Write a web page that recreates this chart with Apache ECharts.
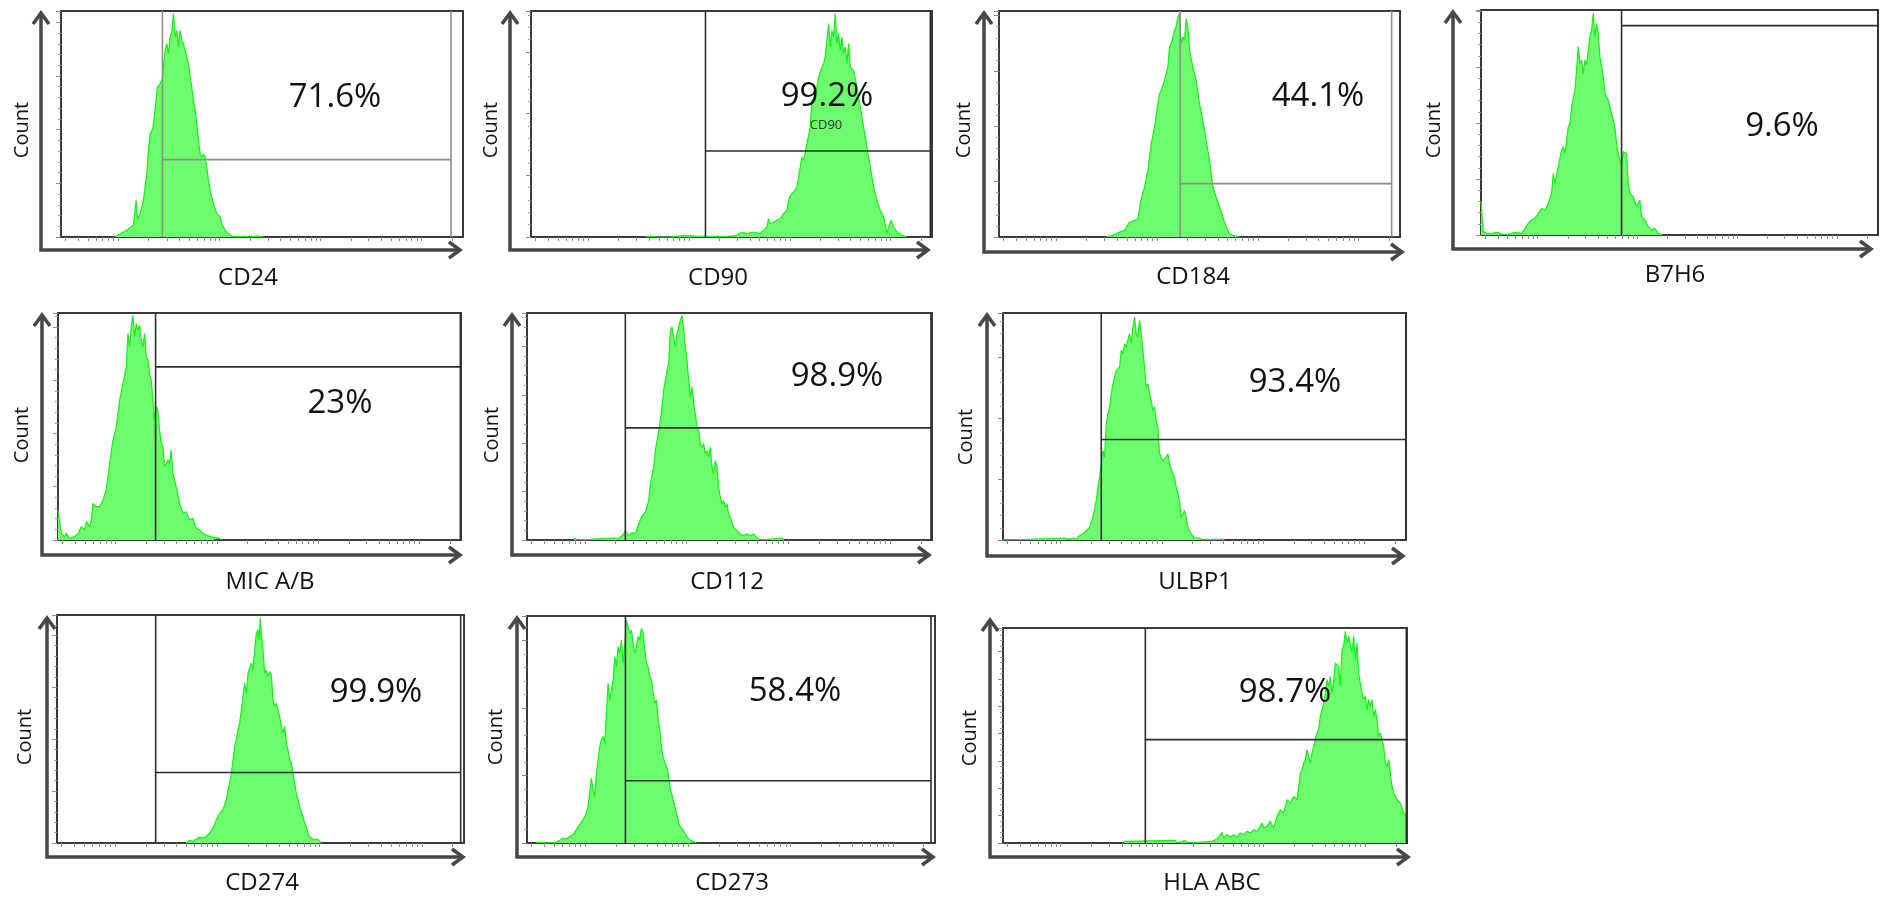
<!DOCTYPE html>
<html>
<head>
<meta charset="utf-8">
<title>Flow cytometry histograms</title>
<script src="https://cdn.jsdelivr.net/npm/echarts@6/dist/echarts.min.js"></script>
<style>
  html, body { margin: 0; padding: 0; background: #fff; }
  #chart { width: 1882px; height: 897px; }
</style>
</head>
<body>
<div id="chart"></div>
<script>
// markers in reading order and the % of cells in the positive gate
const markers = ['CD24', 'CD90', 'CD184', 'B7H6', 'MIC A/B', 'CD112', 'ULBP1', 'CD274', 'CD273', 'HLA ABC'];
const positive = ['71.6%', '99.2%', '44.1%', '9.6%', '23%', '98.9%', '93.4%', '99.9%', '58.4%', '98.7%'];

// channel range (x), count range (y) and count tick step of every plot
const xMax = [1205, 1202, 1204, 1192, 1210, 1215, 1210, 1221, 1223, 1212];
const yMax = [678, 678, 678, 675, 682, 680, 680, 685, 682, 645];
const yStep = [161, 185, 166, 168, 160, 145, 182, 156, 203, 82];

// gate: [left channel, count level of the marker bar, right channel]
const gates = [
  [304, 232, 1169], [523, 258, 1197], [544, 160, 1179], [422, 628, 1192], [293, 520, 1208],
  [295, 336, 1212], [295, 301, 1210], [296, 212, 1211], [295, 187, 1211], [427, 310, 1210]
];
const greyGate = [true, false, true, false, false, false, false, false, false, false];

// log decades of the fluorescence axis (fraction of axis where each decade starts)
const decadeStart = 0.143, decadeStep = 0.2513;

// histograms: [channel, count]
const histCD24 = [[162,0],[177,10],[197,20],[217,35],[222,40],[225,110],[229,55],[237,70],[247,110],[257,190],[262,260],[267,310],[275,325],[282,380],[289,450],[297,460],[304,475],[307,510],[312,560],[317,580],[322,550],[327,600],[332,615],[337,670],[342,600],[347,620],[352,570],[357,620],[362,590],[367,580],[372,560],[377,540],[382,520],[387,480],[392,450],[397,410],[402,380],[407,340],[412,290],[417,250],[422,240],[427,250],[432,240],[437,210],[442,170],[447,140],[457,100],[467,70],[477,60],[482,40],[492,20],[502,10],[517,0],[547,3],[562,0],[592,3],[607,0]];
const histCD90 = [[342,0],[345,5],[360,3],[375,0],[420,0],[460,5],[495,3],[500,0],[597,2],[617,5],[632,15],[647,10],[667,15],[687,10],[697,20],[707,30],[712,55],[717,40],[727,45],[737,50],[747,55],[757,70],[767,80],[772,110],[777,125],[787,135],[797,150],[807,210],[812,240],[817,230],[827,280],[837,330],[842,410],[852,420],[862,480],[872,510],[877,520],[882,540],[887,590],[892,640],[897,570],[902,620],[907,600],[912,670],[917,580],[922,610],[927,560],[932,600],[937,550],[942,570],[947,520],[952,580],[957,510],[967,500],[977,450],[987,390],[997,330],[1007,270],[1017,210],[1027,150],[1037,110],[1047,80],[1057,60],[1067,10],[1072,30],[1079,50],[1087,30],[1097,15],[1112,5],[1127,0]];
const histCD184 = [[322,0],[342,5],[362,15],[377,20],[392,45],[407,50],[417,55],[427,115],[437,150],[447,200],[457,280],[467,330],[477,400],[482,430],[487,440],[497,470],[507,510],[512,570],[517,580],[522,600],[527,620],[532,630],[537,660],[542,670],[547,580],[552,600],[557,590],[562,655],[567,630],[572,560],[582,510],[592,470],[602,400],[612,350],[622,290],[632,230],[642,150],[652,120],[662,90],[672,60],[682,30],[692,10],[702,5],[722,0]];
const histB7H6 = [[0,100],[4,100],[7,10],[17,5],[32,5],[52,8],[62,2],[82,2],[102,8],[122,5],[132,20],[142,35],[152,45],[162,50],[172,65],[182,80],[192,75],[202,95],[212,125],[217,185],[222,155],[232,205],[242,255],[247,265],[252,245],[257,285],[262,325],[267,335],[272,385],[282,435],[287,495],[292,565],[297,515],[302,525],[307,485],[312,525],[317,510],[322,555],[327,595],[332,615],[337,665],[342,595],[347,635],[352,605],[357,535],[362,505],[367,475],[372,425],[377,415],[382,405],[387,385],[392,365],[402,325],[407,275],[412,245],[417,225],[422,205],[427,250],[437,245],[442,155],[447,125],[457,115],[467,85],[477,105],[482,55],[492,45],[502,25],[512,15],[522,20],[532,5],[547,0]];
const histMICAB = [[0,88],[4,88],[10,20],[20,10],[25,20],[35,5],[50,10],[60,20],[70,40],[80,30],[85,55],[95,40],[100,60],[105,110],[115,100],[125,100],[135,120],[145,150],[155,230],[165,300],[175,340],[180,380],[185,420],[195,470],[205,520],[210,620],[215,580],[220,640],[225,675],[230,610],[235,650],[240,630],[245,645],[250,600],[255,580],[260,620],[265,550],[270,540],[275,500],[280,480],[285,420],[290,360],[295,400],[300,390],[305,330],[310,290],[315,280],[320,220],[330,240],[335,230],[340,270],[345,200],[355,160],[365,110],[375,80],[385,85],[395,60],[405,65],[415,35],[425,30],[435,20],[445,15],[465,8],[485,5],[490,0]];
const histCD112 = [[140,6],[150,0],[190,2],[225,4],[260,6],[275,4],[290,18],[295,28],[305,13],[315,23],[325,18],[335,48],[345,73],[355,83],[365,118],[370,168],[375,173],[380,218],[385,268],[390,298],[395,328],[400,358],[405,398],[410,448],[415,478],[420,508],[425,528],[430,628],[435,638],[440,608],[445,578],[450,618],[455,638],[460,658],[465,673],[470,628],[475,578],[480,538],[485,478],[490,428],[495,458],[500,408],[505,378],[510,338],[515,328],[520,288],[525,278],[530,288],[535,258],[540,268],[545,248],[550,278],[555,218],[560,198],[565,238],[570,218],[575,158],[580,128],[585,108],[590,118],[595,98],[600,108],[605,78],[610,68],[620,38],[630,28],[640,18],[650,13],[660,18],[670,13],[680,18],[690,6],[700,0],[765,6],[770,0]];
const histULBP1 = [[2,3],[10,0],[185,6],[200,2],[210,6],[220,3],[230,13],[240,18],[250,28],[260,38],[270,68],[280,118],[285,158],[290,188],[295,228],[300,268],[305,248],[310,348],[315,378],[320,398],[325,438],[330,468],[335,488],[340,508],[350,518],[355,568],[360,558],[365,588],[370,578],[375,598],[380,618],[385,588],[390,638],[395,668],[400,618],[405,608],[410,658],[415,618],[420,568],[425,518],[430,458],[435,468],[440,438],[445,418],[450,388],[455,398],[460,358],[465,338],[470,258],[475,248],[480,238],[490,248],[495,258],[500,228],[510,198],[515,188],[520,158],[530,118],[535,68],[540,78],[545,88],[550,68],[555,38],[565,18],[575,6],[590,6],[600,0],[630,2],[660,2],[665,0]];
const histCD274 = [[388,0],[398,8],[408,5],[418,12],[428,18],[438,15],[448,20],[458,30],[468,45],[478,70],[488,90],[498,100],[508,130],[513,160],[518,180],[523,210],[528,250],[533,290],[538,310],[543,340],[548,360],[553,400],[558,440],[563,480],[568,450],[573,510],[578,515],[583,540],[588,520],[593,580],[598,630],[603,640],[606,610],[610,675],[613,630],[618,580],[623,510],[628,520],[633,500],[638,515],[643,505],[648,430],[653,410],[658,420],[663,400],[668,380],[673,350],[678,330],[683,350],[688,300],[693,280],[698,250],[703,240],[708,210],[713,180],[718,150],[723,130],[728,110],[733,90],[738,80],[743,60],[748,50],[753,30],[758,18],[768,12],[783,10],[793,0]];
const histCD273 = [[28,3],[58,0],[88,2],[98,8],[108,14],[118,12],[128,20],[138,25],[148,40],[158,55],[168,70],[178,90],[183,110],[188,150],[193,195],[198,160],[203,140],[208,210],[213,250],[218,290],[223,310],[228,320],[233,300],[238,390],[243,480],[248,430],[253,460],[258,490],[263,560],[268,530],[273,590],[278,570],[283,610],[288,540],[293,590],[298,670],[303,650],[308,630],[313,640],[318,600],[323,570],[328,590],[333,620],[338,610],[343,645],[348,630],[353,580],[358,540],[363,530],[368,500],[373,490],[378,450],[383,420],[388,430],[393,370],[398,340],[403,290],[408,260],[413,240],[418,230],[423,210],[428,170],[433,170],[438,130],[448,90],[458,50],[468,40],[478,20],[488,10],[503,2],[508,0]];
const histHLAABC = [[362,5],[367,0],[517,8],[522,0],[547,8],[552,0],[627,5],[642,12],[657,32],[662,15],[672,25],[682,18],[692,25],[702,18],[712,30],[722,25],[732,35],[742,30],[752,40],[762,35],[772,50],[777,60],[782,45],[792,50],[802,65],[812,45],[822,80],[827,90],[832,100],[842,90],[852,130],[857,135],[862,120],[872,140],[882,130],[887,170],[892,210],[897,220],[902,240],[907,250],[912,280],[917,260],[922,240],[927,270],[932,290],[937,310],[942,330],[947,340],[952,380],[957,400],[962,420],[967,450],[972,490],[977,470],[982,500],[987,450],[992,490],[997,540],[1002,540],[1007,530],[1012,470],[1017,580],[1022,590],[1027,635],[1032,600],[1037,620],[1042,625],[1047,570],[1052,620],[1057,550],[1062,600],[1067,510],[1072,480],[1077,450],[1082,430],[1087,440],[1092,400],[1097,430],[1102,410],[1107,430],[1112,380],[1117,400],[1122,370],[1127,320],[1132,330],[1137,310],[1142,290],[1147,240],[1152,230],[1157,250],[1162,210],[1167,170],[1172,150],[1177,140],[1182,130],[1192,120],[1202,90],[1212,80]];
const hists = [histCD24, histCD90, histCD184, histB7H6, histMICAB, histCD112, histULBP1, histCD274, histCD273, histHLAABC];

// page layout (px): plot box [left, top, width, height], arrow frame [x, y, tipX, tipY], text centres
const layout = [
  { box: [61, 11, 402, 226], arrow: [41, 250, 460, 13], count: [22, 130], label: [248, 278], pct: [335, 98] },
  { box: [531, 11, 401, 226], arrow: [510, 250, 928, 13], count: [491, 130], label: [718, 278], pct: [827, 97] },
  { box: [999, 11, 401, 226], arrow: [984, 252, 1402, 13], count: [964, 130], label: [1193, 277], pct: [1318, 97] },
  { box: [1481, 10, 397, 225], arrow: [1453, 249, 1871, 12], count: [1434, 130], label: [1675, 275], pct: [1782, 127] },
  { box: [58, 313, 403, 227], arrow: [42, 555, 460, 315], count: [22, 435], label: [270, 582], pct: [340, 404] },
  { box: [527, 313, 405, 227], arrow: [512, 555, 929, 315], count: [492, 435], label: [727, 582], pct: [837, 377] },
  { box: [1003, 313, 403, 227], arrow: [987, 556, 1403, 315], count: [966, 437], label: [1195, 582], pct: [1295, 383] },
  { box: [57, 615, 407, 228], arrow: [47, 857, 463, 618], count: [25, 737], label: [262, 883], pct: [376, 693] },
  { box: [527, 616, 408, 227], arrow: [517, 857, 933, 618], count: [496, 737], label: [732, 883], pct: [795, 692] },
  { box: [1003, 628, 404, 215], arrow: [990, 857, 1408, 620], count: [970, 738], label: [1212, 883], pct: [1285, 693] }
];

const font = 'Open Sans';
const arrowColor = '#474747';

function logTicks(w) {
  const out = [];
  for (let d = -1; d <= 3; d++) {
    for (let k = 1; k <= 9; k++) {
      const f = decadeStart + decadeStep * (d + Math.log10(k));
      if (f > 0.005 && f < 0.995) out.push(Math.round(f * w));
    }
  }
  return out;
}

const grid = [], xAxis = [], yAxis = [], series = [], graphic = [];

layout.forEach((p, i) => {
  grid.push({
    left: p.box[0], top: p.box[1], width: p.box[2], height: p.box[3],
    show: true, borderColor: '#3a3a3a', borderWidth: 2, backgroundColor: 'transparent',
    containLabel: false, outerBoundsMode: 'none'
  });
  xAxis.push({
    type: 'value', gridIndex: i, min: 0, max: xMax[i],
    axisLine: { show: false },
    axisTick: { show: true, inside: false, length: 4, customValues: logTicks(xMax[i]), lineStyle: { color: '#8a8a8a', width: 1 } },
    axisLabel: { show: false },
    splitLine: { show: false }
  });
  yAxis.push({
    type: 'value', gridIndex: i, min: 0, max: yMax[i], interval: yStep[i],
    axisLine: { show: false },
    axisTick: { show: true, length: 5, lineStyle: { color: '#8a8a8a', width: 1 } },
    minorTick: { show: true, splitNumber: 5, length: 3, lineStyle: { color: '#9a9a9a', width: 1 } },
    axisLabel: { show: false },
    splitLine: { show: false }
  });

  series.push({
    type: 'line', xAxisIndex: i, yAxisIndex: i, data: hists[i],
    symbol: 'none', showSymbol: false, animation: false, z: 2,
    lineStyle: { color: '#1aef1a', width: 1.2 },
    areaStyle: { color: '#6dfc6d', opacity: 1 }
  });

  const [g, h, e] = gates[i];
  series.push({
    type: 'line', xAxisIndex: i, yAxisIndex: i,
    data: [[g, 0], [g, yMax[i]], [g, h], [e, h], [e, yMax[i]], [e, 0]],
    symbol: 'none', showSymbol: false, animation: false, z: 3,
    lineStyle: { color: greyGate[i] ? '#8e8e8e' : '#2e2e2e', width: 1.6 }
  });

  const [ax, ay, tx, ty] = p.arrow;
  const stroke = { stroke: arrowColor, lineWidth: 3.5, fill: 'none', lineJoin: 'miter' };
  graphic.push({ type: 'polyline', z: 50, shape: { points: [[ax, ty], [ax, ay], [tx, ay]] }, style: stroke });
  graphic.push({ type: 'polyline', z: 50, shape: { points: [[ax - 8, ty + 11], [ax, ty], [ax + 8, ty + 11]] }, style: stroke });
  graphic.push({ type: 'polyline', z: 50, shape: { points: [[tx - 11, ay - 8], [tx, ay], [tx - 11, ay + 8]] }, style: stroke });

  graphic.push({
    type: 'text', z: 60, x: p.count[0], y: p.count[1], rotation: Math.PI / 2,
    style: { text: 'Count', fontSize: 20, fontFamily: font, fill: '#111', align: 'center', verticalAlign: 'middle' }
  });
  graphic.push({
    type: 'text', z: 60, x: p.label[0], y: p.label[1],
    style: { text: markers[i], fontSize: 24, fontFamily: font, fill: '#111', align: 'center', verticalAlign: 'middle' }
  });
  graphic.push({
    type: 'text', z: 60, x: p.pct[0], y: p.pct[1],
    style: { text: positive[i], fontSize: 33, fontFamily: font, fill: '#111', align: 'center', verticalAlign: 'middle' }
  });
});

// parameter name left over inside the CD90 plot
graphic.push({
  type: 'text', z: 60, x: 826, y: 125,
  style: { text: 'CD90', fontSize: 13, fontFamily: font, fill: '#333', align: 'center', verticalAlign: 'middle' }
});

const myChart = echarts.init(document.getElementById('chart'));
myChart.setOption({
  backgroundColor: '#fff',
  animation: false,
  grid: grid,
  xAxis: xAxis,
  yAxis: yAxis,
  series: series,
  graphic: graphic
});
</script>
</body>
</html>
